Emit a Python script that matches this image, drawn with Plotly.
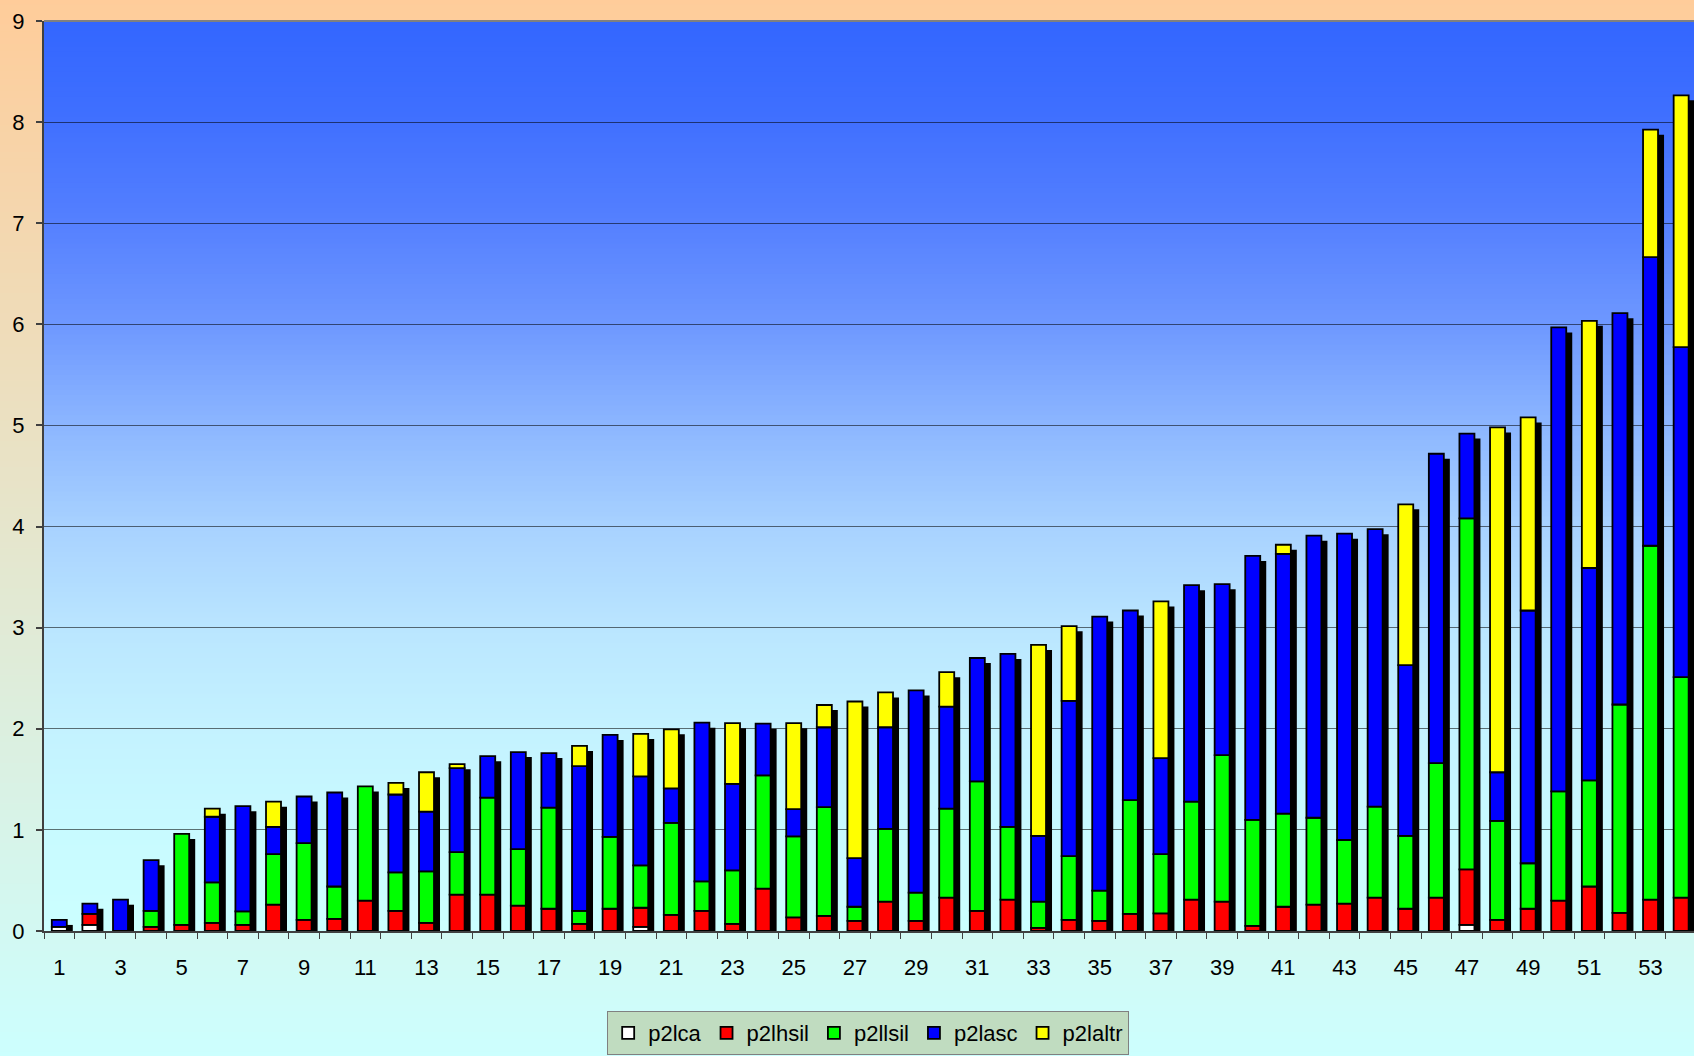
import numpy as np
import plotly.graph_objects as go

# ---------------- data ----------------
categories = list(range(1, 55))
tick_labels = [str(i) for i in range(1, 55, 2)]

p2lca = [0.04, 0.06, 0, 0, 0, 0, 0, 0, 0, 0,
         0, 0, 0, 0, 0, 0, 0, 0, 0, 0.04,
         0, 0, 0, 0, 0, 0, 0, 0, 0, 0,
         0, 0, 0, 0, 0, 0, 0, 0, 0, 0,
         0, 0, 0, 0, 0, 0, 0.06, 0, 0, 0,
         0, 0, 0, 0]
p2lhsil = [0, 0.11, 0, 0.04, 0.06, 0.08, 0.06, 0.26, 0.11, 0.12,
           0.30, 0.20, 0.08, 0.36, 0.36, 0.25, 0.22, 0.07, 0.22, 0.19,
           0.16, 0.20, 0.07, 0.42, 0.135, 0.15, 0.10, 0.29, 0.10, 0.33,
           0.20, 0.31, 0.03, 0.11, 0.10, 0.17, 0.175, 0.31, 0.29, 0.05,
           0.24, 0.26, 0.27, 0.33, 0.22, 0.33, 0.55, 0.11, 0.22, 0.30,
           0.44, 0.18, 0.31, 0.33]
p2llsil = [0, 0, 0, 0.16, 0.90, 0.40, 0.135, 0.50, 0.76, 0.32,
           1.13, 0.38, 0.51, 0.42, 0.96, 0.56, 1.00, 0.13, 0.71, 0.42,
           0.91, 0.29, 0.53, 1.12, 0.80, 1.075, 0.14, 0.72, 0.28, 0.88,
           1.28, 0.72, 0.26, 0.63, 0.30, 1.125, 0.585, 0.97, 1.45, 1.05,
           0.92, 0.86, 0.63, 0.90, 0.72, 1.33, 3.47, 0.98, 0.45, 1.08,
           1.05, 2.06, 3.50, 2.18]
p2lasc = [0.07, 0.10, 0.31, 0.50, 0, 0.65, 1.04, 0.27, 0.46, 0.93,
          0, 0.77, 0.59, 0.83, 0.41, 0.96, 0.54, 1.43, 1.01, 0.88,
          0.34, 1.57, 0.855, 0.51, 0.27, 0.79, 0.48, 1.005, 2.00, 1.01,
          1.22, 1.71, 0.65, 1.535, 2.71, 1.875, 0.95, 2.14, 1.69, 2.61,
          2.57, 2.79, 3.03, 2.745, 1.69, 3.06, 0.84, 0.48, 2.50, 4.59,
          2.10, 3.87, 2.855, 3.265]
p2laltr = [0, 0, 0, 0, 0, 0.08, 0, 0.25, 0, 0,
           0, 0.115, 0.39, 0.04, 0, 0, 0, 0.20, 0, 0.42,
           0.585, 0, 0.60, 0, 0.85, 0.22, 1.55, 0.345, 0, 0.34,
           0, 0, 1.89, 0.74, 0, 0, 1.55, 0, 0, 0,
           0.09, 0, 0, 0, 1.59, 0, 0, 3.41, 1.91, 0,
           2.445, 0, 1.26, 2.49]

series_names = ["p2lca", "p2lhsil", "p2llsil", "p2lasc", "p2laltr"]
series_values = [p2lca, p2lhsil, p2llsil, p2lasc, p2laltr]
series_colors = ["#FFFFFF", "#FF0000", "#00FF00", "#0000FF", "#FFFF00"]

# ---------------- geometry / style ----------------
W, H = 1694, 1056
ML, MR, MT, MB = 44, 0, 21, 125
BAR_W = 0.49
SHADOW_DX = 0.196     # category units
SHADOW_DY = 0.05      # value units
FONT = "Liberation Sans, Arial, sans-serif"

fig = go.Figure()

vals = np.array(series_values, dtype=float)
totals = vals.sum(axis=0)
bases = np.vstack([np.zeros(len(categories)), np.cumsum(vals, axis=0)[:-1]])

# shadow
fig.add_trace(go.Bar(
    x=categories, y=totals, base=[-SHADOW_DY] * len(categories),
    width=BAR_W, offset=-BAR_W / 2 + SHADOW_DX,
    marker=dict(color="black", line=dict(width=0)),
    showlegend=False, hoverinfo="skip"))

for name, v, b, col in zip(series_names, vals, bases, series_colors):
    yv = [val if val > 0 else None for val in v]
    fig.add_trace(go.Bar(
        x=categories, y=yv, base=b, name=name,
        width=BAR_W, offset=-BAR_W / 2,
        marker=dict(color=col, line=dict(color="black", width=1.8))))

# ---------------- background gradients ----------------
shapes = []
plot_h = H - MT - MB
plot_w = W - ML - MR

def lerp_stops(stops, f):
    for (f0, c0), (f1, c1) in zip(stops[:-1], stops[1:]):
        if f0 <= f <= f1:
            t = (f - f0) / (f1 - f0) if f1 > f0 else 0
            return tuple(int(round(a + (bb - a) * t)) for a, bb in zip(c0, c1))
    return stops[-1][1]

outer_stops = [(0.0, (255, 204, 153)), (1.0, (204, 255, 255))]
plot_stops = [(0.0, (51, 102, 255)), (0.111, (64, 112, 255)), (0.222, (85, 128, 255)),
              (0.333, (110, 152, 255)), (0.444, (140, 182, 255)), (0.556, (168, 210, 255)),
              (0.667, (186, 230, 255)), (0.778, (196, 242, 255)), (0.889, (200, 250, 255)),
              (1.0, (204, 255, 255))]

# whole-figure gradient (paper coords extended beyond plot area)
y_bot = -MB / plot_h - 0.01
y_top = 1 + MT / plot_h + 0.01
x_left = -ML / plot_w - 0.02
N = 160
for i in range(N):
    f = (i + 0.5) / N
    c = lerp_stops(outer_stops, f)
    y1 = y_top - (y_top - y_bot) * i / N
    y0 = y_top - (y_top - y_bot) * (i + 1) / N
    shapes.append(dict(type="rect", xref="paper", yref="paper", x0=x_left, x1=1.02,
                       y0=y0 - 0.002, y1=y1, fillcolor="rgb(%d,%d,%d)" % c,
                       line=dict(width=0), layer="below"))
# plot-area gradient
N2 = 180
for i in range(N2):
    f = (i + 0.5) / N2
    c = lerp_stops(plot_stops, f)
    y1 = 1 - i / N2
    y0 = 1 - (i + 1) / N2
    shapes.append(dict(type="rect", xref="paper", yref="paper", x0=0, x1=1.02,
                       y0=max(0, y0 - 0.001), y1=y1, fillcolor="rgb(%d,%d,%d)" % c,
                       line=dict(width=0), layer="below"))
# top border of plot area
shapes.append(dict(type="line", xref="paper", yref="paper", x0=0, x1=1.02, y0=1, y1=1,
                   line=dict(color="#808080", width=2)))

fig.update_layout(
    width=W, height=H,
    margin=dict(l=ML, r=MR, t=MT, b=MB, pad=0),
    paper_bgcolor="#CCFFFF", plot_bgcolor="rgba(0,0,0,0)",
    barmode="overlay",
    shapes=shapes,
    font=dict(family=FONT, size=22, color="black"),
    showlegend=True,
    legend=dict(orientation="h", x=0.4995, xanchor="center", y=-0.088, yanchor="top",
                bgcolor="#C0DCC0", bordercolor="#808080", borderwidth=1,
                font=dict(family=FONT, size=22, color="black"),
                traceorder="normal", itemwidth=30),
    xaxis=dict(range=[0.5, 54.42], tickmode="array",
               tickvals=list(range(1, 55, 2)), ticktext=tick_labels,
               ticks="", showgrid=False, zeroline=False,
               showline=True, linecolor="#404040", linewidth=1.5,
               ticklabelstandoff=16,
               tickfont=dict(family=FONT, size=22, color="black"),
               minor=dict(tickmode="array", tickvals=[i + 0.5 for i in range(0, 55)],
                          ticks="outside", ticklen=6, tickcolor="#404040", tickwidth=1,
                          showgrid=False)),
    yaxis=dict(range=[0, 9], tickmode="linear", tick0=0, dtick=1,
               ticks="outside", ticklen=6, tickcolor="#404040", tickwidth=1.5,
               showgrid=True, gridcolor="rgba(0,0,0,0.55)", gridwidth=1,
               zeroline=False, showline=True, linecolor="#404040", linewidth=2,
               ticklabelstandoff=7,
               tickfont=dict(family=FONT, size=22, color="black")),
)

fig.write_html(
    "out.html",
    config={"displayModeBar": False},
    post_script="document.body.style.margin='0';document.body.style.overflow='hidden';",
)
